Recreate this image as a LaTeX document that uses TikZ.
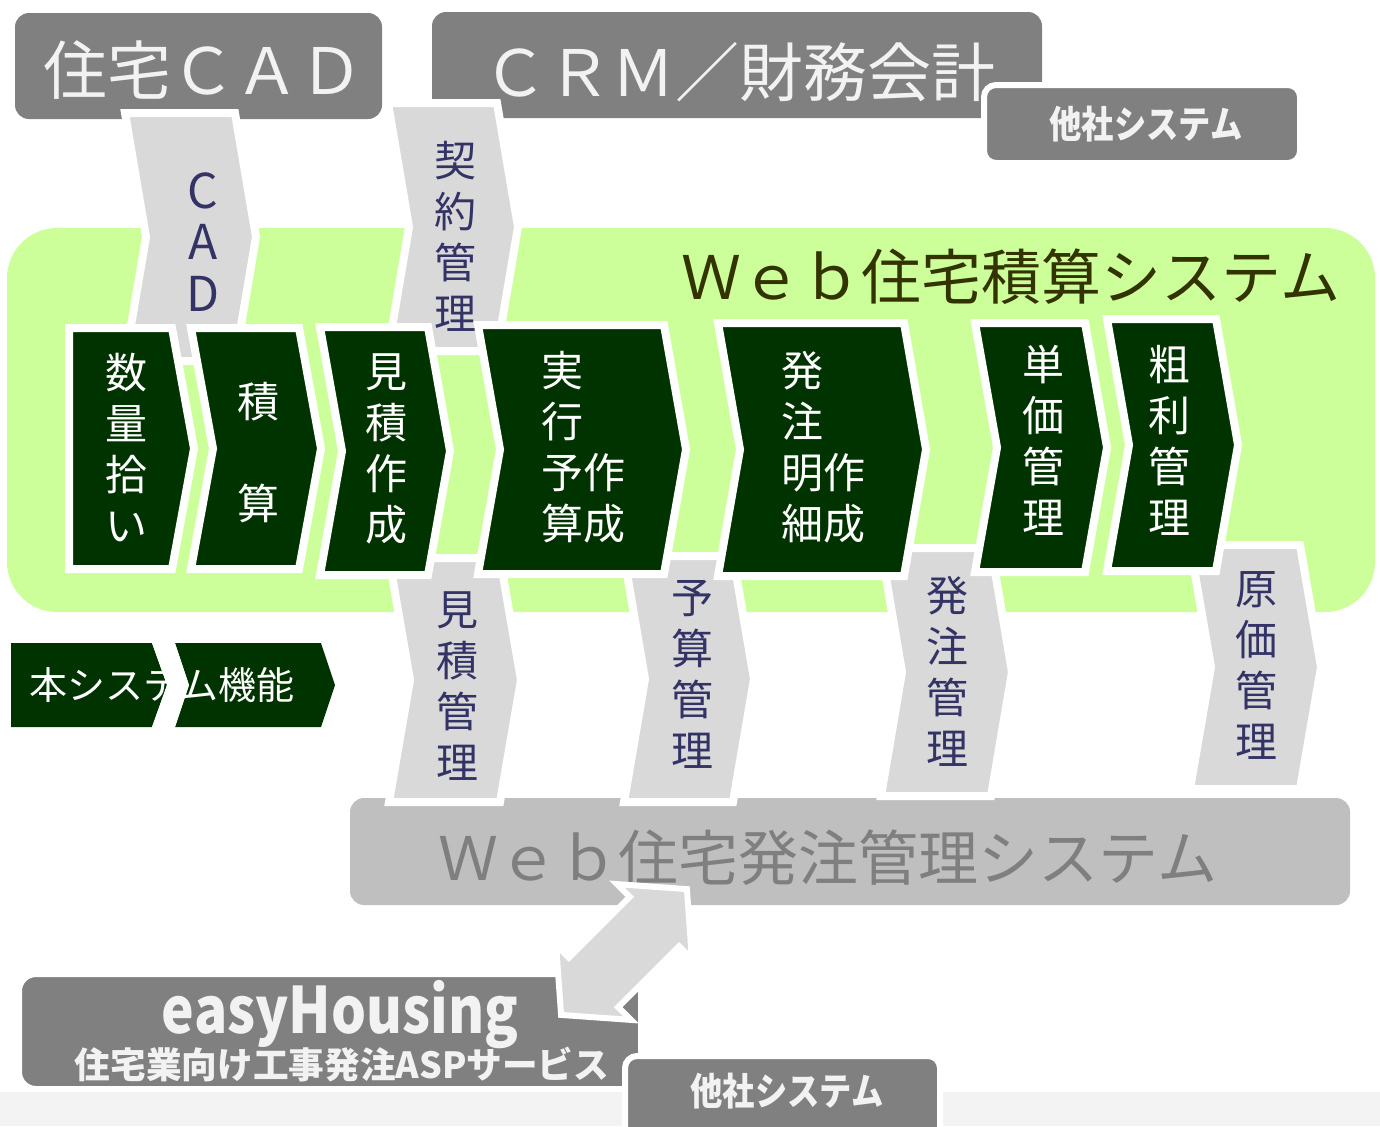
\documentclass[tikz,border=0pt]{standalone}
\usepackage{fontspec}
\setmainfont{Noto Sans CJK JP}
\usepackage{graphicx}
\definecolor{dgray}{HTML}{808080}
\definecolor{lgreen}{HTML}{CCFF99}
\definecolor{dgreen}{HTML}{003300}
\definecolor{lgray}{HTML}{D9D9D9}
\definecolor{navy}{HTML}{333366}
\definecolor{olive}{HTML}{333300}
\definecolor{mgray}{HTML}{BFBFBF}
\definecolor{txtgray}{HTML}{7F7F7F}
\definecolor{offwhite}{HTML}{F2F2F2}
\definecolor{stripgray}{HTML}{F3F3F3}
\newcommand\chv[6]{\path[#1] (#2,#4) -- (#3,#4) -- ({#3+#6},{(#4+#5)/2}) -- (#3,#5) -- (#2,#5) -- ({#2+#6},{(#4+#5)/2}) -- cycle;}
\newcommand\hpl[6]{\path[#1] (#2,#4) -- (#3,#4) -- ({#3+#6},{(#4+#5)/2}) -- (#3,#5) -- (#2,#5) -- cycle;}
\begin{document}
\begin{tikzpicture}[x=0.5pt,y=-0.5pt,
  chevbox/.style={fill=dgreen,draw=white,line width=4pt,line join=miter},
  arrbox/.style={fill=lgray,draw=white,line width=4pt,line join=miter},
  chevtxt/.style={text=white,font=\fontsize{21}{25.5}\selectfont,align=center,inner sep=0pt},
  arrtxt/.style={text=navy,font=\fontsize{21}{25.5}\selectfont,align=center,inner sep=0pt},
  toptxt/.style={text=offwhite,font=\fontsize{32}{36}\selectfont,inner sep=0pt},
  othtxt/.style={text=offwhite,font=\bfseries\fontsize{19}{22}\selectfont,inner sep=0pt},
  sysbox/.style={fill=dgray,draw=white,line width=3pt,rounded corners=6pt}]
\useasboundingbox (0,0) rectangle (1380,1126);
% bottom strip
\fill[stripgray] (0,1092) rectangle (1380,1126);
% green area
\fill[lgreen, rounded corners=25pt] (7,228) rectangle (1375,612);
% top boxes
\fill[dgray, rounded corners=7pt] (15,13) rectangle (382,119);
\node[toptxt] (cad) at (203,70) {住宅ＣＡＤ};
\fill[dgray, rounded corners=7pt] (432,12) rectangle (1042,118);
\node[toptxt] (crm) at (739,72) {ＣＲＭ／財務会計};
\path[sysbox] (984,85) rectangle (1300,163);
\node[othtxt] (oth1) at (1146,124) {\scalebox{0.85}[1]{他社システム}};
% upper arrows
\chv{arrbox}{125}{235}{113}{361}{21}
\chv{arrbox}{388}{497}{103}{351}{21}
% bottom system box
\fill[mgray, rounded corners=7pt] (350,798) rectangle (1350,905);
\node[text=txtgray,font=\fontsize{30}{36}\selectfont,inner sep=0pt] (web2) at (828,858) {Ｗｅｂ住宅発注管理システム};
% lower arrows
\chv{arrbox}{389}{500}{558}{802}{21}
\chv{arrbox}{624}{733}{556}{802}{21}
\chv{arrbox}{881}{991}{548}{796}{21}
\chv{arrbox}{1190}{1300}{545}{789}{21}
% chevrons
\hpl{chevbox}{69}{172}{328}{569}{22}
\chv{chevbox}{191}{299}{328}{569}{22}
\chv{chevbox}{320}{428}{327}{575}{22}
\chv{chevbox}{478}{664}{325}{574}{22}
\chv{chevbox}{718}{904}{323}{576}{22}
\chv{chevbox}{975}{1085}{323}{572}{22}
\chv{chevbox}{1107}{1216}{319}{571}{22}
% chevron texts
\node[chevtxt] (t1) at (126,448) {数\\量\\拾\\い};
\node[chevtxt] (t2) at (258,453) {積\\[25.5pt]算};
\node[chevtxt] (t3) at (386,449) {見\\積\\作\\成};
\node[chevtxt,align=left] (t4) at (583,447) {実\\行\\予作\\算成};
\node[chevtxt,align=left] (t5) at (823,447) {発\\注\\明作\\細成};
\node[chevtxt] (t6) at (1043,440) {単\\価\\管\\理};
\node[chevtxt] (t7) at (1169,440) {粗\\利\\管\\理};
% arrow texts
\node[arrtxt,font=\fontsize{24}{25.75}\selectfont] (a1) at (203,242) {C\\A\\D};
\node[arrtxt] (a2) at (455,236) {契\\約\\管\\理};
\node[arrtxt] (a3) at (457,686) {見\\積\\管\\理};
\node[arrtxt] (a4) at (692,674) {予\\算\\管\\理};
\node[arrtxt] (a5) at (947,671) {発\\注\\管\\理};
\node[arrtxt] (a6) at (1256,665) {原\\価\\管\\理};
% title
\node[text=olive,font=\fontsize{30}{36}\selectfont,inner sep=0pt] (title) at (1011,277) {Ｗｅｂ住宅積算システム};
% legend
\hpl{fill=dgreen}{11}{152}{643}{727}{15}
\chv{fill=dgreen}{175}{321}{643}{727}{14}
\node[text=white,font=\fontsize{19}{22}\selectfont,inner sep=0pt] (leg) at (162,685) {本システム機能};
\fill[white] (152,643) -- (175,643) -- (189,685) -- (175,727) -- (152,727) -- (167,685) -- cycle;
% easyHousing
\draw[fill=dgray, draw=white, line width=2pt, rounded corners=8pt] (20,975) rectangle (640,1088);
\node[text=offwhite,font=\bfseries\fontsize{32}{36}\selectfont,anchor=base,inner sep=0pt] (eh) at (340,1033) {\scalebox{0.86}[1]{easyHousing}};
\node[text=offwhite,font=\bfseries\fontsize{18}{22}\selectfont,anchor=base,inner sep=0pt] (eh2) at (342,1078) {\scalebox{0.99}[1]{住宅業向け工事発注ASPサービス}};
% double arrow
\draw[fill=lgray, draw=white, line width=3pt, line join=miter] (686.9,889.1) -- (691.9,959.1) -- (679.1,946.3) -- (618.3,1007.1) -- (631.1,1019.9) -- (561.1,1014.9) -- (556.1,944.9) -- (568.9,957.7) -- (629.7,896.9) -- (616.9,884.1) -- cycle;
% bottom other system
\path[sysbox] (625,1056) rectangle (940,1145);
\node[othtxt] (oth2) at (787,1091) {\scalebox{0.85}[1]{他社システム}};
\end{tikzpicture}
\end{document}
